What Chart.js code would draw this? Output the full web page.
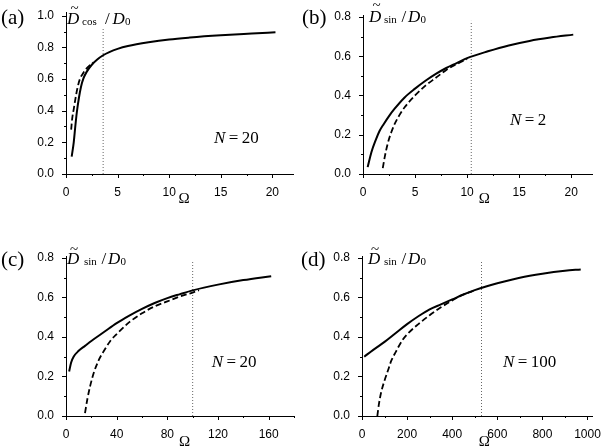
<!DOCTYPE html>
<html lang="en">
<head>
<meta charset="UTF-8">
<title>D sin / D0 versus Omega</title>
<script src="https://cdn.jsdelivr.net/npm/chart.js"></script>
<style>
  body { margin: 0; background: #fff; }
  #fig { position: relative; width: 601px; height: 446px; overflow: hidden; background: #fff; }
  canvas { position: absolute; }
  .t { position: absolute; font-family: "Liberation Serif", "Times New Roman", serif; line-height: 1; color: #000; white-space: nowrap; }
  .pl { font-size: 21px; }
  .d { font-size: 17px; font-style: italic; }
  .sb { font-size: 11px; }
  .sl { font-size: 17px; }
  .tl { font-size: 15px; }
  .n { font-size: 17px; }
  .om { font-size: 15px; width: 20px; text-align: center; }
</style>
</head>
<body>
<div id="fig">
  <canvas id="ca" width="300" height="223" style="left:0;top:0"></canvas>
  <canvas id="cb" width="301" height="223" style="left:300px;top:0"></canvas>
  <canvas id="cc" width="300" height="223" style="left:0;top:223px"></canvas>
  <canvas id="cd" width="301" height="223" style="left:300px;top:223px"></canvas>

  <!-- (a) -->
  <div class="t pl" style="left:1px;top:7px">(a)</div>
  <div class="t d" style="left:67px;top:9.8px">D</div>
  <div class="t tl" style="left:70.5px;top:1px">~</div>
  <div class="t sb" style="left:82px;top:15.7px">cos</div>
  <div class="t sl" style="left:105px;top:9.8px">/</div>
  <div class="t d" style="left:112.5px;top:9.8px">D</div>
  <div class="t sb" style="left:125px;top:15.7px">0</div>
  <div class="t n" style="left:214px;top:129px"><i>N</i>&thinsp;=&thinsp;20</div>
  <div class="t om" style="left:174px;top:190.5px">Ω</div>

  <!-- (b) -->
  <div class="t pl" style="left:302px;top:7px">(b)</div>
  <div class="t d" style="left:369px;top:8.1px">D</div>
  <div class="t tl" style="left:372.5px;top:-1.8px">~</div>
  <div class="t sb" style="left:384px;top:14px">sin</div>
  <div class="t sl" style="left:401.5px;top:8.1px">/</div>
  <div class="t d" style="left:408px;top:8.1px">D</div>
  <div class="t sb" style="left:420.5px;top:14px">0</div>
  <div class="t n" style="left:510px;top:110.8px"><i>N</i>&thinsp;=&thinsp;2</div>
  <div class="t om" style="left:474.3px;top:191px">Ω</div>

  <!-- (c) -->
  <div class="t pl" style="left:1px;top:249px">(c)</div>
  <div class="t d" style="left:67px;top:249.8px">D</div>
  <div class="t tl" style="left:70px;top:242.2px">~</div>
  <div class="t sb" style="left:84px;top:255.7px">sin</div>
  <div class="t sl" style="left:101.5px;top:249.8px">/</div>
  <div class="t d" style="left:108px;top:249.8px">D</div>
  <div class="t sb" style="left:120.5px;top:255.7px">0</div>
  <div class="t n" style="left:211.7px;top:352.5px"><i>N</i>&thinsp;=&thinsp;20</div>
  <div class="t om" style="left:174.5px;top:433.5px">Ω</div>

  <!-- (d) -->
  <div class="t pl" style="left:301px;top:249px">(d)</div>
  <div class="t d" style="left:368px;top:249.8px">D</div>
  <div class="t tl" style="left:371px;top:242.2px">~</div>
  <div class="t sb" style="left:384px;top:255.7px">sin</div>
  <div class="t sl" style="left:401.5px;top:249.8px">/</div>
  <div class="t d" style="left:408px;top:249.8px">D</div>
  <div class="t sb" style="left:420.5px;top:255.7px">0</div>
  <div class="t n" style="left:503px;top:352.5px"><i>N</i>&thinsp;=&thinsp;100</div>
  <div class="t om" style="left:474.3px;top:433.5px">Ω</div>
</div>
<script>
// ---- data ----
// (a) D_cos / D0, N = 20
const aSolidX = [0.55, 0.75, 0.9, 1.05, 1.25, 1.45, 1.7, 2.0, 2.5, 3.0, 3.6, 4.2, 5, 6, 8, 10, 12, 15, 18, 20.3];
const aSolidY = [0.11, 0.2, 0.3, 0.39, 0.48, 0.55, 0.605, 0.645, 0.69, 0.722, 0.75, 0.77, 0.79, 0.808, 0.832, 0.85, 0.862, 0.876, 0.887, 0.895];
const aDashX = [0.5, 0.6, 0.75, 0.9, 1.1, 1.35, 1.6, 1.85, 2.2, 2.6];
const aDashY = [0.28, 0.35, 0.41, 0.47, 0.54, 0.6, 0.63, 0.655, 0.68, 0.705];

// (b) D_sin / D0, N = 2
const bSolidX = [0.45, 0.8, 1.2, 1.6, 2, 2.5, 3, 4, 5, 6, 7, 8, 9, 10, 12, 14, 16, 18, 20.2];
const bSolidY = [0.035, 0.11, 0.17, 0.22, 0.255, 0.295, 0.33, 0.39, 0.435, 0.475, 0.51, 0.54, 0.565, 0.59, 0.625, 0.655, 0.678, 0.695, 0.71];
const bDashX = [1.9, 2.1, 2.4, 2.7, 3, 3.5, 4, 5, 6, 7, 8, 9, 10];
const bDashY = [0.03, 0.09, 0.16, 0.21, 0.25, 0.3, 0.34, 0.4, 0.45, 0.49, 0.53, 0.56, 0.585];

// (c) D_sin / D0, N = 20
const cSolidX = [2.5, 4, 6, 10, 15, 20, 30, 40, 50, 60, 70, 80, 90, 100, 120, 140, 162];
const cSolidY = [0.225, 0.27, 0.3, 0.33, 0.355, 0.38, 0.425, 0.47, 0.508, 0.542, 0.572, 0.597, 0.617, 0.636, 0.665, 0.688, 0.708];
const cDashX = [15, 17, 19, 22, 26, 30, 35, 40, 50, 60, 70, 80, 90, 100, 105];
const cDashY = [0.015, 0.09, 0.15, 0.22, 0.285, 0.33, 0.38, 0.415, 0.475, 0.52, 0.555, 0.58, 0.605, 0.625, 0.637];

// (d) D_sin / D0, N = 100
const dSolidX = [10, 50, 100, 150, 200, 250, 300, 350, 400, 450, 500, 550, 600, 700, 800, 900, 970];
const dSolidY = [0.3, 0.335, 0.375, 0.42, 0.465, 0.505, 0.54, 0.565, 0.59, 0.615, 0.637, 0.656, 0.672, 0.7, 0.72, 0.735, 0.742];
const dDashX = [68, 75, 85, 100, 115, 130, 150, 180, 210, 250, 300, 350, 400, 450, 500];
const dDashY = [0.0, 0.06, 0.12, 0.18, 0.23, 0.28, 0.325, 0.385, 0.425, 0.465, 0.51, 0.55, 0.585, 0.615, 0.635];

// dotted markers: position and top of each
const markX = [3.6, 10.4, 100, 530];
const markTop = [0.92, 0.78, 0.78, 0.78];

// axis ranges and ticks
const xMax = [22, 22, 180, 1020];
const yMax = [1.02, 0.81, 0.81, 0.81];
const xMajor = [[0, 5, 10, 15, 20], [0, 5, 10, 15, 20], [0, 40, 80, 120, 160], [0, 200, 400, 600, 800, 1000]];
const xMinor = [[2.5, 7.5, 12.5, 17.5], [2.5, 7.5, 12.5, 17.5], [20, 60, 100, 140, 180], [100, 300, 500, 700, 900]];
const yMajorA = [0, 0.2, 0.4, 0.6, 0.8, 1.0];
const yMinorA = [0.1, 0.3, 0.5, 0.7, 0.9];
const yMajorB = [0, 0.2, 0.4, 0.6, 0.8];
const yMinorB = [0.1, 0.3, 0.5, 0.7];

// ---- drawing ----
const pts = (xs, ys) => xs.map((x, i) => ({ x: x, y: ys[i] }));

// small outward tick marks, major and minor, placed by the chart's scales
const tickMarks = {
  id: 'tickMarks',
  afterDraw(chart, args, opts) {
    const { ctx, chartArea: a } = chart;
    const sx = chart.scales.x, sy = chart.scales.y;
    ctx.save();
    ctx.strokeStyle = '#000';
    ctx.lineWidth = 1;
    ctx.beginPath();
    const xt = (v, len) => {
      const p = Math.round(sx.getPixelForValue(v)) + 0.5;
      ctx.moveTo(p, Math.round(a.bottom)); ctx.lineTo(p, Math.round(a.bottom) + len);
    };
    const yt = (v, len) => {
      const p = Math.round(sy.getPixelForValue(v)) + 0.5;
      ctx.moveTo(Math.round(a.left), p); ctx.lineTo(Math.round(a.left) - len, p);
    };
    opts.xMajor.forEach(v => xt(v, 4));
    opts.xMinor.forEach(v => xt(v, 2));
    opts.yMajor.forEach(v => yt(v, 4));
    opts.yMinor.forEach(v => yt(v, 2));
    ctx.stroke();
    ctx.restore();
  }
};

const tickFont = { family: '"Liberation Sans", Arial, sans-serif', size: 12 };

function makePanel(id, i, solid, dash, yMaj, yMin, box) {
  new Chart(document.getElementById(id), {
    type: 'line',
    data: {
      datasets: [
        { data: solid, borderColor: '#000', borderWidth: 2, pointRadius: 0, cubicInterpolationMode: 'monotone' },
        { data: dash, borderColor: '#000', borderWidth: 1.8, borderDash: [6, 3], pointRadius: 0, cubicInterpolationMode: 'monotone' },
        { data: [{ x: markX[i], y: 0 }, { x: markX[i], y: markTop[i] }], borderColor: '#666', borderWidth: 1, borderDash: [1, 2], pointRadius: 0 }
      ]
    },
    options: {
      responsive: false,
      animation: false,
      events: [],
      layout: { padding: { left: 0, top: box.top, right: box.right, bottom: box.bottom } },
      plugins: {
        legend: { display: false },
        tooltip: { enabled: false },
        tickMarks: { xMajor: xMajor[i], xMinor: xMinor[i], yMajor: yMaj, yMinor: yMin }
      },
      scales: {
        x: {
          type: 'linear', min: 0, max: xMax[i],
          grid: { display: false },
          border: { display: true, color: '#000', width: 1 },
          afterBuildTicks: s => { s.ticks = xMajor[i].map(v => ({ value: v })); },
          afterFit: s => { s.height = 25; s.paddingLeft = 0; s.paddingRight = 0; },
          ticks: { font: tickFont, color: '#000', padding: 3, maxRotation: 0, autoSkip: false, callback: v => String(v) }
        },
        y: {
          type: 'linear', min: 0, max: yMax[i],
          grid: { display: false },
          border: { display: true, color: '#000', width: 1 },
          afterBuildTicks: s => { s.ticks = yMaj.map(v => ({ value: v })); },
          afterFit: s => { s.width = box.left; s.paddingTop = 0; s.paddingBottom = 0; },
          ticks: { font: tickFont, color: '#000', padding: 4, autoSkip: false, callback: v => v.toFixed(1) }
        }
      }
    },
    plugins: [tickMarks]
  });
}

makePanel('ca', 0, pts(aSolidX, aSolidY), pts(aDashX, aDashY), yMajorA, yMinorA, { left: 66, top: 12.5, right: 7, bottom: 24 });
makePanel('cb', 1, pts(bSolidX, bSolidY), pts(bDashX, bDashY), yMajorB, yMinorB, { left: 63, top: 15, right: 9, bottom: 24 });
makePanel('cc', 2, pts(cSolidX, cSolidY), pts(cDashX, cDashY), yMajorB, yMinorB, { left: 66, top: 33, right: 6, bottom: 5 });
makePanel('cd', 3, pts(dSolidX, dSolidY), pts(dDashX, dDashY), yMajorB, yMinorB, { left: 62, top: 33, right: 9, bottom: 5 });
</script>
</body>
</html>
